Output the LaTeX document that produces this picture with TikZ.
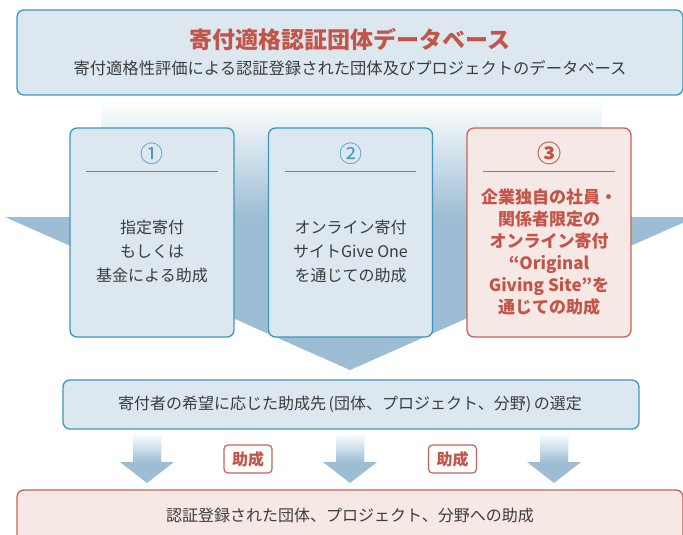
\documentclass[tikz,border=0pt]{standalone}
\usepackage{fontspec}
\setmainfont{Noto Sans CJK JP}
\definecolor{bblue}{RGB}{58,152,192}
\definecolor{bfill}{RGB}{220,231,240}
\definecolor{rborder}{RGB}{200,98,88}
\definecolor{rfill}{RGB}{245,232,229}
\definecolor{arrblue}{RGB}{156,189,212}
\definecolor{tred}{RGB}{196,84,72}
\definecolor{tgray}{RGB}{60,60,60}
\tikzset{
  bluebox/.style={draw=bblue, line width=1.3pt, fill=bfill, rounded corners=7pt, inner sep=0pt},
  redbox/.style={draw=rborder, line width=1.3pt, fill=rfill, rounded corners=7pt, inner sep=0pt},
  tagbox/.style={draw=rborder, line width=1.2pt, fill=white, rounded corners=4pt, minimum width=48pt, minimum height=28pt, inner sep=0pt, text=tred, font=\fontsize{16}{18}\selectfont\bfseries},
  bodytxt/.style={align=center, text=tgray, font=\fontsize{16}{24}\selectfont},
  redtxt/.style={align=center, text=tred, font=\fontsize{17}{22}\selectfont\bfseries},
  sepline/.style={line width=1.3pt},
}
\begin{document}
\begin{tikzpicture}[x=1pt,y=-1pt]
\useasboundingbox (0,0) rectangle (683,535);
\clip (0,0) rectangle (683,535);
% top box
\node[bluebox, minimum width=666pt, minimum height=85pt] (db) at (350,52.5) {};
\node[text=tred, font=\fontsize{23}{26}\selectfont\bfseries] (dbtitle) at (350,40) {寄付適格認証団体データベース};
\node[text=tgray, font=\fontsize{16.3}{18}\selectfont] (dbsub) at (350,68) {寄付適格性評価による認証登録された団体及びプロジェクトのデータベース};
% big arrow
\fill[arrblue] (101,100) -- (601,100) -- (601,217) -- (696,217) -- (350,370) -- (5,217) -- (101,217) -- cycle;
\shade[top color=white, bottom color=arrblue] (101,100) rectangle (601,218);
% three boxes
\node[bluebox, minimum width=164pt, minimum height=209pt] (b1) at (152,232.5) {};
\node[bluebox, minimum width=164pt, minimum height=209pt] (b2) at (350.5,232.5) {};
\node[redbox, minimum width=164pt, minimum height=209pt] (b3) at (549,232.5) {};
\node[text=bblue, font=\fontsize{23}{24}\selectfont] (n1) at (152,154) {①};
\node[text=bblue, font=\fontsize{23}{24}\selectfont] (n2) at (350.5,154) {②};
\node[text=tred, font=\fontsize{24}{26}\selectfont\bfseries] (n3) at (549,153) {③};
\draw[sepline, bblue] ([xshift=17pt,yshift=-44pt]b1.north west) -- ([xshift=-17pt,yshift=-44pt]b1.north east);
\draw[sepline, bblue] ([xshift=17pt,yshift=-44pt]b2.north west) -- ([xshift=-17pt,yshift=-44pt]b2.north east);
\draw[sepline, rborder] ([xshift=17pt,yshift=-44pt]b3.north west) -- ([xshift=-17pt,yshift=-44pt]b3.north east);
\node[bodytxt] (t1) at (152,251) {指定寄付\\もしくは\\基金による助成};
\node[bodytxt] (t2) at (350.5,251) {オンライン寄付\\サイトGive One\\を通じての助成};
\node[redtxt] (t3) at (549,252.5) {企業独自の社員・\\関係者限定の\\オンライン寄付\\“Original\\Giving Site”を\\通じての助成};
% selection box
\node[bluebox, minimum width=576pt, minimum height=49pt] (sel) at (351,404.5) {};
\node[text=tgray, font=\fontsize{16}{18}\selectfont] (seltxt) at (350,404.5) {寄付者の希望に応じた助成先\,(団体、プロジェクト、分野)\,の選定};
% small arrows
\foreach \cx in {147,350,554}{
  \fill[arrblue] (\cx-14,435) -- (\cx+14,435) -- (\cx+14,462) -- (\cx+27,462) -- (\cx,483) -- (\cx-27,462) -- (\cx-14,462) -- cycle;
  \shade[top color=white, bottom color=arrblue] (\cx-14,433) rectangle (\cx+14,463);
}
\node[tagbox] (g1) at (248,459) {助成};
\node[tagbox] (g2) at (452.5,459) {助成};
% bottom box
\node[redbox, minimum width=666pt, minimum height=60pt] (res) at (350,520) {};
\node[text=tgray, font=\fontsize{16}{18}\selectfont] (restxt) at (350,515) {認証登録された団体、プロジェクト、分野への助成};
\end{tikzpicture}
\end{document}
